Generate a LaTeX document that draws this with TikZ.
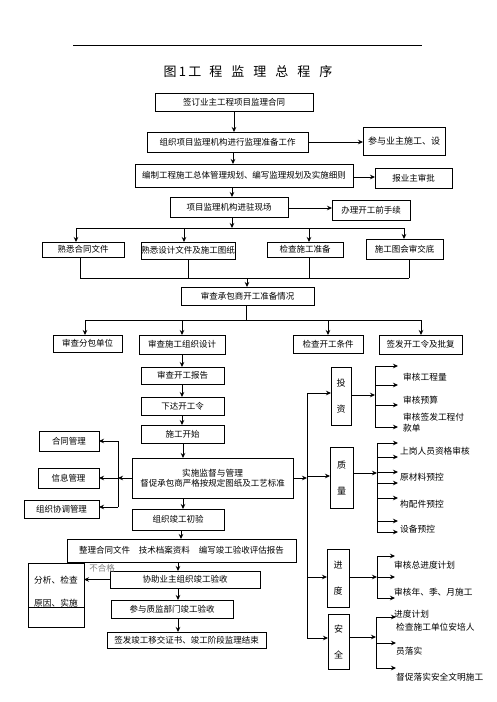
\documentclass[tikz,border=0pt]{standalone}
\usepackage{fontspec}
\setmainfont{Liberation Sans}
\newfontfamily\cjk{Noto Sans CJK SC}
\usetikzlibrary{arrows.meta}
\newcommand\bx[6]{\node[box,minimum width={(#4-#2)*1pt},minimum height={(#5-#3)*1pt}] (#1) at ({(#2+#4)/2},{(#3+#5)/2}) {#6};}
\begin{document}
\begin{tikzpicture}[x=1pt,y=-1pt,
  box/.style={draw,line width=0.9pt,inner sep=0pt,outer sep=0pt,font=\cjk\fontsize{8.5}{10}\selectfont,align=center},
  arr/.style={line width=0.8pt,-{Stealth[length=5pt,width=4.5pt]}},
  ln/.style={line width=0.8pt},
  lbl/.style={inner sep=0pt,anchor=west,font=\cjk\fontsize{8.7}{10}\selectfont},
  vbox/.style={box,font=\cjk\fontsize{9}{26}\selectfont}]
\useasboundingbox (0,0) rectangle (496,702);
% header
\coordinate (hl) at (73,45); \coordinate (hr) at (422,45);
\draw[line width=0.6pt] (hl) -- (hr);
\node[inner sep=0pt,font=\cjk\fontsize{13}{15}\selectfont] (title) at (248,72) {图\,1\,工\hspace{8pt}程\hspace{9pt}监\hspace{9pt}理\hspace{9pt}总\hspace{9pt}程\hspace{9pt}序};
% top chain
\bx{b1}{155}{93}{313}{111}{签订业主工程项目监理合同}
\bx{b2}{147}{132}{308}{152}{组织项目监理机构进行监理准备工作}
\bx{b2r}{363}{127}{445}{155}{\fontsize{9}{10}\selectfont 参与业主施工、设}
\bx{b3}{135}{164}{353}{187}{编制工程施工总体管理规划、编写监理规划及实施细则}
\bx{b3r}{375}{168}{452}{188}{报业主审批}
\bx{b4}{170}{197}{288}{217}{项目监理机构进驻现场}
\bx{b4r}{332}{200}{410}{220}{办理开工前手续}
\draw[arr] (b1.south -| 234,0) -- (b2.north -| 234,0);
\draw[arr] (b2.south -| 233,0) -- (b3.north -| 233,0);
\draw[arr] (b3.south -| 232,0) -- (b4.north -| 232,0);
\draw[arr] (b2.east |- 0,142) -- (b2r.west |- 0,142);
\draw[arr] (b3.east |- 0,177) -- (b3r.west |- 0,177);
\draw[arr] (b4.east |- 0,208) -- (b4r.west |- 0,208);
% row 1
\bx{a1}{42}{242}{124}{257}{熟悉合同文件}
\bx{a2}{141}{242}{235}{259}{熟悉设计文件及施工图纸}
\bx{a3}{267}{242}{343}{257}{检查施工准备}
\bx{a4}{366}{239}{443}{259}{施工图会审交底}
\coordinate (j1) at (232,228);
\coordinate (j1a) at (76,228); \coordinate (j1b) at (184,228);
\coordinate (j1c) at (309,228); \coordinate (j1d) at (404,228);
\draw[arr] (b4.south -| j1) -- (j1);
\draw[ln] (j1a) -- (j1d);
\foreach \c/\n in {j1a/a1,j1b/a2,j1c/a3,j1d/a4} \draw[arr] (\c) -- (\n.north -| \c);
% E
\bx{e}{181}{287}{314}{305}{审查承包商开工准备情况}
\coordinate (j2) at (247,278);
\coordinate (j2a) at (80,278); \coordinate (j2b) at (188,278);
\coordinate (j2c) at (309,278); \coordinate (j2d) at (409,278);
\draw[ln] (j2a) -- (j2d);
\foreach \c/\n in {j2a/a1,j2b/a2,j2c/a3,j2d/a4} \draw[ln] (\n.south -| \c) -- (\c);
\draw[arr] (j2) -- (e.north -| j2);
% row 2
\bx{f}{53}{335}{122}{352}{审查分包单位}
\bx{g}{139}{335}{225}{354}{审查施工组织设计}
\bx{h}{293}{335}{363}{353}{检查开工条件}
\bx{i}{379}{335}{462}{354}{签发开工令及批复}
\coordinate (j3) at (246,320);
\coordinate (j3a) at (85,320); \coordinate (j3b) at (182,320);
\coordinate (j3c) at (328,320); \coordinate (j3d) at (421,320);
\draw[ln] (e.south -| j3) -- (j3);
\draw[ln] (j3a) -- (j3d);
\foreach \c/\n in {j3a/f,j3b/g,j3c/h,j3d/i} \draw[arr] (\c) -- (\n.north -| \c);
% middle chain
\bx{j}{141}{367}{224}{384}{审查开工报告}
\bx{k}{141}{397}{224}{415}{下达开工令}
\bx{l}{141}{425}{224}{443}{施工开始}
\bx{m}{132}{458}{293}{498}{\fontsize{8.7}{17}\selectfont 实施监督与管理\\ 督促承包商严格按规定图纸及工艺标准}
\draw[arr] (g.south -| 182,0) -- (j.north -| 182,0);
\draw[arr] (j.south -| 182,0) -- (k.north -| 182,0);
\draw[arr] (k.south -| 182,0) -- (l.north -| 182,0);
\draw[arr] (l.south -| 183,0) -- (m.north -| 183,0);
% left management
\bx{n}{39}{431}{99}{451}{合同管理}
\bx{o}{38}{468}{99}{488}{信息管理}
\bx{p}{24}{500}{99}{518}{组织协调管理}
\coordinate (lv) at (118,478); \coordinate (lvt) at (118,441); \coordinate (lvb) at (118,507);
\draw[ln] (lvt) -- (lvb);
\draw[arr] (m.west) -- (lv);
\draw[arr] (lvt) -- (n.east |- lvt);
\draw[arr] (lv) -- (o.east |- lv);
\draw[arr] (lvb) -- (p.east |- lvb);
% right control boxes
\node[vbox,minimum width=20pt,minimum height=58pt] (inv) at (341,396) {投\\资};
\node[vbox,minimum width=23pt,minimum height=61pt] (qual) at (341.5,477.5) {质\\量};
\node[vbox,minimum width=22pt,minimum height=58pt] (prog) at (338,578) {进\\度};
\node[vbox,minimum width=21pt,minimum height=55pt] (safe) at (338.5,641.5) {安\\全};
\coordinate (rv) at (307,478); \coordinate (rvt) at (307,393); \coordinate (rvb) at (307,638);
\coordinate (rvq) at (307,476); \coordinate (rvp) at (307,577);
\draw[ln] (rvt) -- (rvb);
\draw[arr] (m.east) -- (rv);
\draw[arr] (rvt) -- (inv.west |- rvt);
\draw[arr] (rvq) -- (qual.west |- rvq);
\draw[arr] (rvp) -- (prog.west |- rvp);
\draw[arr] (rvb) -- (safe.west |- rvb);
% investment items
\coordinate (iv) at (375,395);
\draw[arr] (inv.east |- iv) -- (iv);
\draw[ln] (375,366) -- (375,427);
\foreach \yy [count=\k] in {366,385,405,427} {\coordinate (ia\k) at (398,\yy); \draw[arr] (iv |- ia\k) -- (ia\k);}
\node[lbl] (ti1) at (403,377) {审核工程量};
\node[lbl] (ti2) at (403,400) {审核预算};
\node[lbl] (ti3) at (403,417) {审核签发工程付};
\node[lbl] (ti4) at (403,428) {款单};
% quality items
\coordinate (qv) at (377,473);
\draw[arr] (qual.east |- qv) -- (qv);
\draw[ln] (377,443) -- (377,533);
\foreach \yy [count=\k] in {443,457,472,483,498,521,532} {\coordinate (qa\k) at (398,\yy); \draw[arr] (qv |- qa\k) -- (qa\k);}
\node[lbl] (tq1) at (400,451) {上岗人员资格审核};
\node[lbl] (tq2) at (400,477) {原材料预控};
\node[lbl] (tq3) at (400,504) {构配件预控};
\node[lbl] (tq4) at (400,529) {设备预控};
% progress items
\coordinate (pv) at (377,577);
\draw[arr] (prog.east |- pv) -- (pv);
\draw[ln] (377,556) -- (377,598);
\foreach \yy [count=\k] in {556,577,598} {\coordinate (pa\k) at (395,\yy); \draw[arr] (pv |- pa\k) -- (pa\k);}
\node[lbl] (tp1) at (394,565) {审核总进度计划};
\node[lbl] (tp2) at (394,592) {审核年、季、月施工};
\node[lbl] (tp3) at (394,614) {进度计划};
% safety items
\coordinate (sv) at (376,637);
\draw[arr] (safe.east |- sv) -- (sv);
\draw[ln] (376,617) -- (376,668);
\foreach \yy [count=\k] in {617,643,668} {\coordinate (sa\k) at (396,\yy); \draw[arr] (sv |- sa\k) -- (sa\k);}
\node[lbl] (ts1) at (396,627) {检查施工单位安培人};
\node[lbl] (ts2) at (396,651) {员落实};
\node[lbl] (ts3) at (396,677) {督促落实安全文明施工};
% completion chain
\bx{q}{132}{509}{224}{530}{组织竣工初验}
\bx{r}{67}{539}{296}{562}{整理合同文件\hspace{9pt}技术档案资料\hspace{9pt}编写竣工验收评估报告}
\bx{s}{110}{571}{260}{588}{协助业主组织竣工验收}
\bx{u}{111}{600}{233}{618}{参与质监部门竣工验收}
\bx{v}{107}{632}{266}{648}{签发竣工移交证书、竣工阶段监理结束}
\node[box,minimum width=56pt,minimum height=64pt,anchor=north west,align=center,text depth=0pt] (t) at (28,563) {};
\node[inner sep=0pt,font=\cjk\fontsize{8.7}{10}\selectfont] (t1) at (56,580) {分析、检查};
\node[inner sep=0pt,font=\cjk\fontsize{8.7}{10}\selectfont] (t2) at (56,603) {原因、实施};
\coordinate (tl) at (28,607);
\draw[ln] (tl) -- (t.east |- tl);
\node[inner sep=0pt,text=gray,font=\cjk\fontsize{8.5}{10}\selectfont] (ng) at (102,568) {不合格};
\draw[arr] (m.south -| 183,0) -- (q.north -| 183,0);
\draw[arr] (q.south -| 181,0) -- (r.north -| 181,0);
\draw[arr] (r.south -| 178,0) -- (s.north -| 178,0);
\draw[arr] (s.south -| 178,0) -- (u.north -| 178,0);
\draw[arr] (u.south -| 178,0) -- (v.north -| 178,0);
\draw[arr] (s.west) -- (t.east |- s.west);
\end{tikzpicture}
\end{document}
